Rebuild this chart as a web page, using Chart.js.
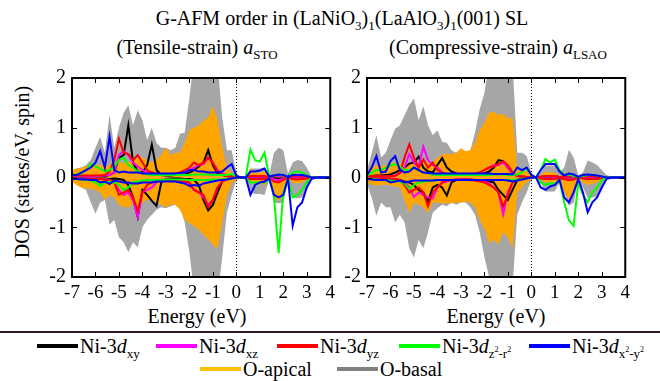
<!DOCTYPE html>
<html>
<head>
<meta charset="utf-8">
<script src="https://cdn.jsdelivr.net/npm/chart.js@4.4.1/dist/chart.umd.min.js"></script>
<style>
  body { margin: 0; width: 660px; height: 381px; background: #fff; position: relative; overflow: hidden;
         font-family: "Liberation Serif", "Times New Roman", serif; color: #000; }
  .t { position: absolute; white-space: nowrap; font-size: 20px; line-height: 1; transform: translateX(-50%); }
  canvas { position: absolute; }
  sub { font-size: 13px; vertical-align: -5px; line-height: 0; }
  sub sup { font-size: 8px; vertical-align: 6px; }
  .rule { position: absolute; left: 0; top: 331px; width: 660px; height: 2px; background: #2a1a1a; }
  .key { position: absolute; white-space: nowrap; font-size: 20px; line-height: 1; }
  .key span.sw { display: inline-block; width: 41px; height: 4px; vertical-align: 5px; margin-right: 2px; }
</style>
</head>
<body>
<div class="t" style="left:342px;top:8px">G-AFM order in (LaNiO<sub>3</sub>)<sub>1</sub>(LaAlO<sub>3</sub>)<sub>1</sub>(001) SL</div>
<div class="t" style="left:197px;top:37px">(Tensile-strain) <i>a</i><sub>STO</sub></div>
<div class="t" style="left:498px;top:37px">(Compressive-strain) <i>a</i><sub>LSAO</sub></div>
<div class="t" style="left:197px;top:306px">Energy (eV)</div>
<div class="t" style="left:496px;top:306px">Energy (eV)</div>
<div class="t" style="left:22px;top:162px;transform:translateX(-50%) rotate(-90deg)">DOS (states/eV, spin)</div>
<canvas id="sto" width="310" height="250" style="left:30px;top:60px"></canvas>
<canvas id="lsao" width="310" height="250" style="left:325px;top:60px"></canvas>
<div class="rule"></div>
<div id="legend"></div>

<script>
// energy grid (eV)
const energy = [-7.0, -6.8, -6.6, -6.4, -6.2, -6.0, -5.8, -5.6, -5.4, -5.2,
  -5.0, -4.8, -4.6, -4.4, -4.2, -4.0, -3.8, -3.6, -3.4, -3.2,
  -3.0, -2.8, -2.6, -2.4, -2.2, -2.0, -1.8, -1.6, -1.4, -1.2,
  -1.0, -0.8, -0.6, -0.4, -0.2, 0.0, 0.2, 0.4, 0.6, 0.8,
  1.0, 1.2, 1.4, 1.6, 1.8, 2.0, 2.2, 2.4, 2.6, 2.8,
  3.0, 3.2, 3.4, 3.6, 3.8, 4.0];
const xTicks = [-7, -6, -5, -4, -3, -2, -1, 0, 1, 2, 3, 4];
const yTicks = [-2, -1, 0, 1, 2];

// ---- tensile strain (a_STO) ----
const basalUpSTO = [0.15, 0.18, 0.2, 0.25, 0.35, 0.6, 0.82, 0.5, 1.26, 0.6,
  1.0, 1.3, 1.45, 1.05, 1.35, 1.15, 0.75, 1.0, 0.7, 0.6,
  0.6, 0.55, 0.6, 0.88, 0.9, 1.6, 2.4, 2.2, 2.5, 2.5,
  2.5, 2.3, 1.2, 0.55, 0.55, 0.1, 0, 0, 0.18, 0.18,
  0.18, 0.2, 0.04, 0.5, 0.6, 0.55, 0.08, 0.3, 0.35, 0.33,
  0.2, 0.02, 0, 0, 0, 0];
const basalDnSTO = [-0.09, -0.12, -0.2, -0.25, -0.5, -0.73, -0.5, -0.45, -0.95, -0.85,
  -1.2, -1.3, -1.5, -1.3, -1.4, -1.0, -0.85, -0.75, -0.65, -0.6,
  -0.62, -0.58, -0.55, -0.6, -0.9, -1.5, -2.3, -2.5, -2.5, -2.5,
  -2.5, -2.4, -1.6, -0.7, -0.35, -0.05, 0, 0, -0.3, -0.33,
  -0.33, -0.35, -0.05, -0.5, -0.52, -0.5, -0.1, -0.4, -0.42, -0.4,
  -0.25, -0.02, 0, 0, 0, 0];
const apicalUpSTO = [0.15, 0.18, 0.2, 0.22, 0.27, 0.25, 0.25, 0.22, 0.25, 0.28,
  0.3, 0.3, 0.3, 0.35, 0.4, 0.4, 0.35, 0.3, 0.35, 0.45,
  0.6, 0.45, 0.5, 0.5, 0.7, 0.95, 1.0, 1.05, 1.15, 1.2,
  1.43, 1.15, 0.6, 0.2, 0.08, 0.03, 0, 0, 0.18, 0.1,
  0.1, 0.12, 0.02, 0.05, 0.08, 0.05, 0.02, 0.05, 0.06, 0.05,
  0.03, 0, 0, 0, 0, 0];
const apicalDnSTO = [-0.09, -0.15, -0.2, -0.22, -0.22, -0.25, -0.3, -0.45, -0.35, -0.4,
  -0.55, -0.6, -0.6, -0.55, -0.55, -0.5, -0.45, -0.45, -0.5, -0.55,
  -0.6, -0.55, -0.55, -0.65, -0.85, -0.92, -0.98, -1.05, -1.15, -1.24,
  -1.35, -1.43, -0.9, -0.35, -0.12, -0.03, 0, 0, -0.1, -0.12,
  -0.12, -0.15, -0.02, -0.4, -0.46, -0.35, -0.02, -0.1, -0.12, -0.1,
  -0.05, 0, 0, 0, 0, 0];
const dxyUpSTO = [0.02, 0.02, 0.02, 0.03, 0.03, 0.03, 0.03, 0.03, 0.05, 0.1,
  0.4, 0.45, 1.05, 0.3, 0.12, 0.1, 0.25, 0.66, 0.15, 0.05,
  0.04, 0.04, 0.05, 0.06, 0.08, 0.1, 0.15, 0.22, 0.3, 0.55,
  0.25, 0.08, 0.05, 0.03, 0.02, 0, 0, 0, 0.02, 0.02,
  0.02, 0.02, 0, 0.02, 0.02, 0.02, 0, 0.02, 0.02, 0.02,
  0.01, 0, 0, 0, 0, 0];
const dxyDnSTO = [-0.02, -0.02, -0.02, -0.02, -0.02, -0.02, -0.02, -0.02, -0.03, -0.02,
  -0.03, -0.05, -0.15, -0.4, -0.79, -0.25, -0.35, -0.47, -0.57, -0.1,
  -0.03, -0.02, -0.02, -0.02, -0.03, -0.03, -0.05, -0.15, -0.45, -0.66,
  -0.55, -0.3, -0.08, -0.03, -0.01, 0, 0, 0, -0.02, -0.02,
  -0.02, -0.02, 0, -0.02, -0.03, -0.02, 0, -0.02, -0.02, -0.02,
  -0.01, 0, 0, 0, 0, 0];
const dxzUpSTO = [0.03, 0.03, 0.03, 0.03, 0.03, 0.03, 0.03, 0.04, 0.05, 0.1,
  0.45, 0.53, 0.45, 0.3, 0.22, 0.15, 0.1, 0.08, 0.06, 0.05,
  0.05, 0.05, 0.06, 0.08, 0.1, 0.15, 0.2, 0.25, 0.27, 0.4,
  0.3, 0.15, 0.08, 0.04, 0.02, 0, 0, 0, 0.02, 0.02,
  0.02, 0.02, 0, 0.03, 0.03, 0.02, 0, 0.02, 0.02, 0.02,
  0.01, 0, 0, 0, 0, 0];
const dxzDnSTO = [-0.02, -0.02, -0.02, -0.02, -0.02, -0.02, -0.03, -0.03, -0.05, -0.1,
  -0.25, -0.35, -0.3, -0.45, -0.8, -0.3, -0.25, -0.2, -0.1, -0.05,
  -0.04, -0.04, -0.05, -0.06, -0.1, -0.15, -0.25, -0.3, -0.4, -0.55,
  -0.45, -0.2, -0.08, -0.03, -0.01, 0, 0, 0, -0.02, -0.02,
  -0.02, -0.02, 0, -0.04, -0.05, -0.03, 0, -0.02, -0.02, -0.02,
  -0.01, 0, 0, 0, 0, 0];
const dyzUpSTO = [0.04, 0.04, 0.04, 0.04, 0.04, 0.04, 0.04, 0.05, 0.12, 0.35,
  0.78, 0.5, 0.47, 0.35, 0.45, 0.3, 0.15, 0.1, 0.08, 0.06,
  0.06, 0.07, 0.08, 0.1, 0.15, 0.2, 0.3, 0.25, 0.3, 0.4,
  0.3, 0.12, 0.06, 0.03, 0.02, 0, 0, 0, 0.03, 0.03,
  0.03, 0.03, 0, 0.04, 0.05, 0.03, 0, 0.03, 0.04, 0.03,
  0.02, 0, 0, 0, 0, 0];
const dyzDnSTO = [-0.03, -0.03, -0.03, -0.03, -0.03, -0.03, -0.03, -0.04, -0.06, -0.1,
  -0.35, -0.3, -0.25, -0.4, -0.67, -0.3, -0.15, -0.1, -0.07, -0.05,
  -0.05, -0.05, -0.06, -0.07, -0.08, -0.1, -0.25, -0.3, -0.35, -0.6,
  -0.45, -0.2, -0.08, -0.03, -0.01, 0, 0, 0, -0.03, -0.03,
  -0.03, -0.03, 0, -0.08, -0.1, -0.05, 0, -0.03, -0.04, -0.03,
  -0.02, 0, 0, 0, 0, 0];
const dz2UpSTO = [0.05, 0.06, 0.08, 0.15, 0.27, 0.22, 0.18, 0.12, 0.15, 0.22,
  0.35, 0.4, 0.25, 0.2, 0.12, 0.08, 0.06, 0.05, 0.05, 0.05,
  0.05, 0.05, 0.05, 0.05, 0.05, 0.05, 0.06, 0.06, 0.06, 0.06,
  0.05, 0.05, 0.05, 0.05, 0.07, 0.02, 0, 0, 0.56, 0.35,
  0.32, 0.5, 0.02, 0.04, 0.06, 0.04, 0.01, 0.1, 0.12, 0.1,
  0.05, 0, 0, 0, 0, 0];
const dz2DnSTO = [-0.03, -0.03, -0.04, -0.05, -0.06, -0.1, -0.17, -0.1, -0.08, -0.1,
  -0.15, -0.25, -0.2, -0.1, -0.08, -0.06, -0.05, -0.05, -0.05, -0.05,
  -0.04, -0.04, -0.04, -0.04, -0.04, -0.05, -0.05, -0.05, -0.05, -0.05,
  -0.04, -0.04, -0.04, -0.03, -0.02, 0, 0, 0, -0.1, -0.1,
  -0.1, -0.1, -0.02, -0.35, -1.52, -0.3, -0.02, -0.4, -0.35, -0.25,
  -0.1, 0, 0, 0, 0, 0];
const dx2UpSTO = [0.05, 0.05, 0.1, 0.15, 0.2, 0.3, 0.53, 0.2, 0.82, 0.15,
  0.1, 0.12, 0.1, 0.1, 0.1, 0.08, 0.08, 0.08, 0.08, 0.08,
  0.08, 0.08, 0.08, 0.09, 0.1, 0.15, 0.15, 0.12, 0.12, 0.1,
  0.1, 0.1, 0.12, 0.2, 0.27, 0.03, 0, 0, 0.12, 0.12,
  0.14, 0.18, 0.02, 0.04, 0.06, 0.05, 0.01, 0.05, 0.05, 0.05,
  0.03, 0, 0, 0, 0, 0];
const dx2DnSTO = [-0.03, -0.03, -0.04, -0.04, -0.05, -0.05, -0.1, -0.08, -0.13, -0.06,
  -0.08, -0.1, -0.1, -0.12, -0.12, -0.1, -0.1, -0.1, -0.08, -0.08,
  -0.08, -0.08, -0.08, -0.1, -0.12, -0.17, -0.15, -0.17, -0.12, -0.1,
  -0.08, -0.06, -0.05, -0.04, -0.02, 0, 0, 0, -0.35, -0.15,
  -0.1, -0.08, -0.02, -0.35, -0.4, -0.35, -0.02, -0.97, -0.6, -0.5,
  -0.2, -0.03, 0, 0, 0, 0];

// ---- compressive strain (a_LSAO) ----
const basalUpLSAO = [0.14, 0.5, 0.85, 0.4, 0.5, 0.75, 0.98, 1.05, 1.25, 1.45,
  1.59, 1.15, 1.43, 1.05, 0.85, 0.95, 0.72, 0.7, 0.55, 0.5,
  0.5, 0.5, 0.55, 0.9, 1.37, 1.7, 2.3, 2.5, 2.5, 2.5,
  2.5, 2.3, 0.5, 0.5, 0.43, 0.1, 0, 0.1, 0.24, 0.24,
  0.24, 0.1, 0.2, 0.56, 0.4, 0.05, 0.1, 0.34, 0.3, 0.25,
  0.15, 0.05, 0.02, 0, 0, 0];
const basalDnLSAO = [-0.13, -0.4, -0.77, -0.5, -0.6, -0.6, -0.9, -0.75, -0.9, -1.42,
  -1.61, -1.25, -1.42, -1.1, -0.71, -0.62, -0.55, -0.58, -0.5, -0.55,
  -0.5, -0.5, -0.6, -0.75, -1.1, -1.6, -2.0, -2.4, -2.5, -2.5,
  -2.5, -2.2, -0.75, -0.5, -0.3, -0.05, 0, -0.1, -0.28, -0.28,
  -0.28, -0.1, -0.3, -0.57, -0.5, -0.05, -0.2, -0.41, -0.4, -0.38,
  -0.25, -0.05, 0, 0, 0, 0];
const apicalUpLSAO = [0.1, 0.2, 0.24, 0.24, 0.24, 0.3, 0.3, 0.28, 0.28, 0.28,
  0.28, 0.28, 0.3, 0.3, 0.3, 0.4, 0.46, 0.48, 0.46, 0.5,
  0.59, 0.53, 0.55, 0.7, 0.95, 1.1, 1.3, 1.32, 1.25, 1.28,
  1.18, 1.2, 0.14, 0.14, 0.12, 0.05, 0, 0.05, 0.12, 0.1,
  0.1, 0.03, 0.05, 0.08, 0.05, 0.01, 0.02, 0.06, 0.06, 0.05,
  0.03, 0, 0, 0, 0, 0];
const apicalDnLSAO = [-0.1, -0.14, -0.16, -0.15, -0.14, -0.16, -0.18, -0.2, -0.45, -0.71,
  -0.5, -0.55, -0.6, -0.71, -0.5, -0.5, -0.52, -0.52, -0.52, -0.5,
  -0.5, -0.48, -0.5, -0.6, -0.85, -1.03, -1.32, -1.25, -1.35, -1.1,
  -1.2, -1.42, -0.3, -0.2, -0.1, -0.03, 0, -0.05, -0.1, -0.1,
  -0.1, -0.03, -0.3, -0.44, -0.3, -0.02, -0.1, -0.15, -0.12, -0.1,
  -0.05, 0, 0, 0, 0, 0];
const dxyUpLSAO = [0.03, 0.03, 0.04, 0.04, 0.05, 0.06, 0.1, 0.15, 0.2, 0.28,
  0.3, 0.42, 0.2, 0.12, 0.1, 0.25, 0.39, 0.2, 0.12, 0.08,
  0.05, 0.05, 0.05, 0.06, 0.07, 0.08, 0.12, 0.2, 0.35, 0.33,
  0.2, 0.08, 0.03, 0.02, 0.01, 0, 0, 0.01, 0.02, 0.02,
  0.02, 0.01, 0.01, 0.02, 0.02, 0, 0.01, 0.02, 0.02, 0.02,
  0.01, 0, 0, 0, 0, 0];
const dxyDnLSAO = [-0.02, -0.02, -0.02, -0.02, -0.02, -0.03, -0.04, -0.05, -0.08, -0.1,
  -0.15, -0.25, -0.3, -0.48, -0.2, -0.15, -0.2, -0.36, -0.1, -0.05,
  -0.04, -0.04, -0.04, -0.05, -0.05, -0.06, -0.08, -0.1, -0.25, -0.35,
  -0.45, -0.25, -0.05, -0.02, -0.01, 0, 0, -0.01, -0.02, -0.02,
  -0.02, -0.01, -0.02, -0.04, -0.03, 0, -0.01, -0.02, -0.02, -0.02,
  -0.01, 0, 0, 0, 0, 0];
const dxzUpLSAO = [0.03, 0.03, 0.03, 0.03, 0.03, 0.03, 0.04, 0.08, 0.2, 0.47,
  0.3, 0.2, 0.62, 0.35, 0.25, 0.2, 0.1, 0.07, 0.05, 0.05,
  0.05, 0.05, 0.06, 0.07, 0.1, 0.15, 0.2, 0.25, 0.25, 0.3,
  0.2, 0.08, 0.03, 0.02, 0.01, 0, 0, 0.01, 0.02, 0.02,
  0.02, 0.01, 0.01, 0.02, 0.02, 0, 0.01, 0.02, 0.02, 0.02,
  0.01, 0, 0, 0, 0, 0];
const dxzDnLSAO = [-0.02, -0.02, -0.02, -0.02, -0.02, -0.02, -0.03, -0.05, -0.1, -0.2,
  -0.39, -0.3, -0.35, -0.4, -0.42, -0.2, -0.1, -0.08, -0.05, -0.04,
  -0.04, -0.04, -0.04, -0.05, -0.06, -0.08, -0.12, -0.2, -0.3, -0.74,
  -0.3, -0.1, -0.04, -0.02, -0.01, 0, 0, -0.01, -0.02, -0.02,
  -0.02, -0.01, -0.02, -0.04, -0.03, 0, -0.01, -0.02, -0.02, -0.02,
  -0.01, 0, 0, 0, 0, 0];
const dyzUpLSAO = [0.03, 0.03, 0.03, 0.03, 0.03, 0.03, 0.03, 0.1, 0.4, 0.67,
  0.4, 0.2, 0.36, 0.2, 0.3, 0.15, 0.1, 0.06, 0.05, 0.05,
  0.05, 0.06, 0.07, 0.08, 0.1, 0.15, 0.2, 0.22, 0.28, 0.33,
  0.25, 0.1, 0.03, 0.02, 0.01, 0, 0, 0.02, 0.03, 0.03,
  0.03, 0.01, 0.02, 0.03, 0.03, 0, 0.02, 0.03, 0.03, 0.02,
  0.01, 0, 0, 0, 0, 0];
const dyzDnLSAO = [-0.02, -0.02, -0.02, -0.02, -0.02, -0.02, -0.03, -0.05, -0.15, -0.3,
  -0.25, -0.2, -0.3, -0.58, -0.3, -0.2, -0.1, -0.06, -0.05, -0.04,
  -0.04, -0.04, -0.05, -0.06, -0.08, -0.1, -0.15, -0.2, -0.3, -0.58,
  -0.35, -0.1, -0.04, -0.02, -0.01, 0, 0, -0.02, -0.03, -0.03,
  -0.03, -0.01, -0.03, -0.05, -0.04, 0, -0.02, -0.03, -0.03, -0.02,
  -0.01, 0, 0, 0, 0, 0];
const dz2UpLSAO = [0.03, 0.1, 0.15, 0.15, 0.2, 0.24, 0.27, 0.22, 0.15, 0.15,
  0.2, 0.15, 0.1, 0.08, 0.06, 0.05, 0.05, 0.05, 0.05, 0.05,
  0.05, 0.05, 0.05, 0.05, 0.05, 0.05, 0.05, 0.06, 0.06, 0.06,
  0.05, 0.05, 0.06, 0.1, 0.2, 0.05, 0, 0.15, 0.37, 0.3,
  0.36, 0.15, 0.05, 0.06, 0.03, 0.01, 0.03, 0.05, 0.05, 0.04,
  0.02, 0, 0, 0, 0, 0];
const dz2DnLSAO = [-0.02, -0.03, -0.04, -0.05, -0.06, -0.06, -0.07, -0.08, -0.12, -0.23,
  -0.15, -0.1, -0.08, -0.07, -0.06, -0.05, -0.05, -0.05, -0.05, -0.05,
  -0.05, -0.05, -0.05, -0.05, -0.05, -0.05, -0.05, -0.05, -0.05, -0.05,
  -0.05, -0.05, -0.04, -0.03, -0.02, 0, 0, -0.1, -0.15, -0.12,
  -0.12, -0.05, -0.5, -0.86, -0.97, -0.1, -0.35, -0.5, -0.3, -0.2,
  -0.05, 0, 0, 0, 0, 0];
const dx2UpLSAO = [0.05, 0.2, 0.43, 0.1, 0.12, 0.33, 0.43, 0.15, 0.1, 0.12,
  0.2, 0.15, 0.1, 0.09, 0.08, 0.08, 0.08, 0.08, 0.08, 0.08,
  0.08, 0.08, 0.08, 0.08, 0.08, 0.08, 0.08, 0.07, 0.07, 0.07,
  0.07, 0.06, 0.2, 0.15, 0.2, 0.05, 0, 0.15, 0.27, 0.27,
  0.27, 0.12, 0.04, 0.08, 0.06, 0.01, 0.05, 0.06, 0.05, 0.04,
  0.02, 0, 0, 0, 0, 0];
const dx2DnLSAO = [-0.03, -0.04, -0.05, -0.05, -0.05, -0.1, -0.08, -0.06, -0.1, -0.08,
  -0.06, -0.06, -0.06, -0.06, -0.06, -0.05, -0.05, -0.05, -0.05, -0.05,
  -0.05, -0.05, -0.05, -0.05, -0.05, -0.05, -0.05, -0.05, -0.05, -0.05,
  -0.06, -0.08, -0.06, -0.04, -0.02, 0, 0, -0.2, -0.25, -0.18,
  -0.15, -0.05, -0.4, -0.5, -0.3, -0.03, -0.3, -0.7, -0.5, -0.4,
  -0.2, -0.03, 0, 0, 0, 0];

const colors = {
  dxy: "#000000", dxz: "#ff00ff", dyz: "#ff0000", dz2: "#00ff00", dx2: "#0000ff",
  apical: "#ffa500", basal: "#a6a6a6"
};

// one dataset per spin channel; lower order = drawn on top
function curve(values, color, order, filled) {
  return {
    data: values.map((v, i) => ({ x: energy[i], y: v })),
    borderColor: color,
    backgroundColor: color,
    borderWidth: filled ? 0 : 2,
    fill: filled ? "origin" : false,
    pointRadius: 0,
    tension: 0,
    order
  };
}

function panelDatasets(s) {
  return [
    curve(s.basalUp, colors.basal, 10, true), curve(s.basalDn, colors.basal, 10, true),
    curve(s.apicalUp, colors.apical, 9, true), curve(s.apicalDn, colors.apical, 9, true),
    curve(s.dxyUp, colors.dxy, 6), curve(s.dxyDn, colors.dxy, 6),
    curve(s.dxzUp, colors.dxz, 5), curve(s.dxzDn, colors.dxz, 5),
    curve(s.dyzUp, colors.dyz, 4), curve(s.dyzDn, colors.dyz, 4),
    curve(s.dz2Up, colors.dz2, 3), curve(s.dz2Dn, colors.dz2, 3),
    curve(s.dx2Up, colors.dx2, 2), curve(s.dx2Dn, colors.dx2, 2)
  ];
}

// frame, inward ticks on all sides, dotted Fermi level
const framePlugin = {
  id: "frame",
  afterDatasetsDraw(chart) {
    const { ctx, chartArea: a, scales: { x, y } } = chart;
    ctx.save();
    ctx.strokeStyle = "#000";
    ctx.lineWidth = 1;
    ctx.setLineDash([1, 2]);
    const xf = Math.round(x.getPixelForValue(0)) + 0.5;
    ctx.beginPath();
    ctx.moveTo(xf, a.top);
    ctx.lineTo(xf, a.bottom);
    ctx.stroke();
    ctx.setLineDash([]);
    ctx.beginPath();
    xTicks.forEach(t => {
      const px = Math.round(x.getPixelForValue(t)) + 0.5;
      ctx.moveTo(px, a.bottom); ctx.lineTo(px, a.bottom - 5);
      ctx.moveTo(px, a.top); ctx.lineTo(px, a.top + 5);
    });
    yTicks.forEach(t => {
      const py = Math.round(y.getPixelForValue(t)) + 0.5;
      ctx.moveTo(a.left, py); ctx.lineTo(a.left + 5, py);
      ctx.moveTo(a.right, py); ctx.lineTo(a.right - 5, py);
    });
    ctx.stroke();
    ctx.lineWidth = 2;
    ctx.strokeRect(a.left, a.top, a.right - a.left, a.bottom - a.top);
    ctx.restore();
  }
};

function makePanel(id, s, topPad) {
  new Chart(document.getElementById(id), {
    type: "line",
    data: { datasets: panelDatasets(s) },
    options: {
      responsive: false,
      animation: false,
      devicePixelRatio: 1,
      layout: { padding: { top: topPad, right: 9, left: 0, bottom: 0 } },
      plugins: { legend: { display: false }, tooltip: { enabled: false } },
      scales: {
        x: {
          type: "linear", min: -7, max: 4,
          afterBuildTicks: sc => { sc.ticks = xTicks.map(v => ({ value: v })); },
          afterFit: sc => { sc.height = 33; },
          grid: { display: false, drawTicks: false, tickLength: 0 }, border: { display: false },
          ticks: { color: "#000", padding: 5, maxRotation: 0, autoSkip: false,
                   font: { family: "Liberation Serif", size: 19 } }
        },
        y: {
          min: -2, max: 2,
          afterBuildTicks: sc => { sc.ticks = yTicks.map(v => ({ value: v })); },
          afterFit: sc => { sc.width = 42; },
          grid: { display: false, drawTicks: false, tickLength: 0 }, border: { display: false },
          ticks: { color: "#000", padding: 6, font: { family: "Liberation Serif", size: 20 } }
        }
      }
    },
    plugins: [framePlugin]
  });
}

makePanel("sto", {
  basalUp: basalUpSTO, basalDn: basalDnSTO, apicalUp: apicalUpSTO, apicalDn: apicalDnSTO,
  dxyUp: dxyUpSTO, dxyDn: dxyDnSTO, dxzUp: dxzUpSTO, dxzDn: dxzDnSTO,
  dyzUp: dyzUpSTO, dyzDn: dyzDnSTO, dz2Up: dz2UpSTO, dz2Dn: dz2DnSTO,
  dx2Up: dx2UpSTO, dx2Dn: dx2DnSTO
}, 8);

makePanel("lsao", {
  basalUp: basalUpLSAO, basalDn: basalDnLSAO, apicalUp: apicalUpLSAO, apicalDn: apicalDnLSAO,
  dxyUp: dxyUpLSAO, dxyDn: dxyDnLSAO, dxzUp: dxzUpLSAO, dxzDn: dxzDnLSAO,
  dyzUp: dyzUpLSAO, dyzDn: dyzDnLSAO, dz2Up: dz2UpLSAO, dz2Dn: dz2DnLSAO,
  dx2Up: dx2UpLSAO, dx2Dn: dx2DnLSAO
}, 10);

// legend
const legendItems = [
  { color: colors.dxy, html: "Ni-3<i>d</i><sub>xy</sub>", left: 37, top: 336 },
  { color: colors.dxz, html: "Ni-3<i>d</i><sub>xz</sub>", left: 156, top: 336 },
  { color: colors.dyz, html: "Ni-3<i>d</i><sub>yz</sub>", left: 277, top: 336 },
  { color: colors.dz2, html: "Ni-3<i>d</i><sub>z<sup>2</sup>-r<sup>2</sup></sub>", left: 399, top: 336 },
  { color: colors.dx2, html: "Ni-3<i>d</i><sub>x<sup>2</sup>-y<sup>2</sup></sub>", left: 529, top: 336 },
  { color: "#ffc000", html: "O-apical", left: 200, top: 359 },
  { color: "#808080", html: "O-basal", left: 337, top: 359 }
];
const legend = document.getElementById("legend");
legendItems.forEach(it => {
  const d = document.createElement("div");
  d.className = "key";
  d.style.left = it.left + "px";
  d.style.top = it.top + "px";
  d.innerHTML = '<span class="sw" style="background:' + it.color + '"></span>' + it.html;
  legend.appendChild(d);
});
</script>
</body>
</html>
